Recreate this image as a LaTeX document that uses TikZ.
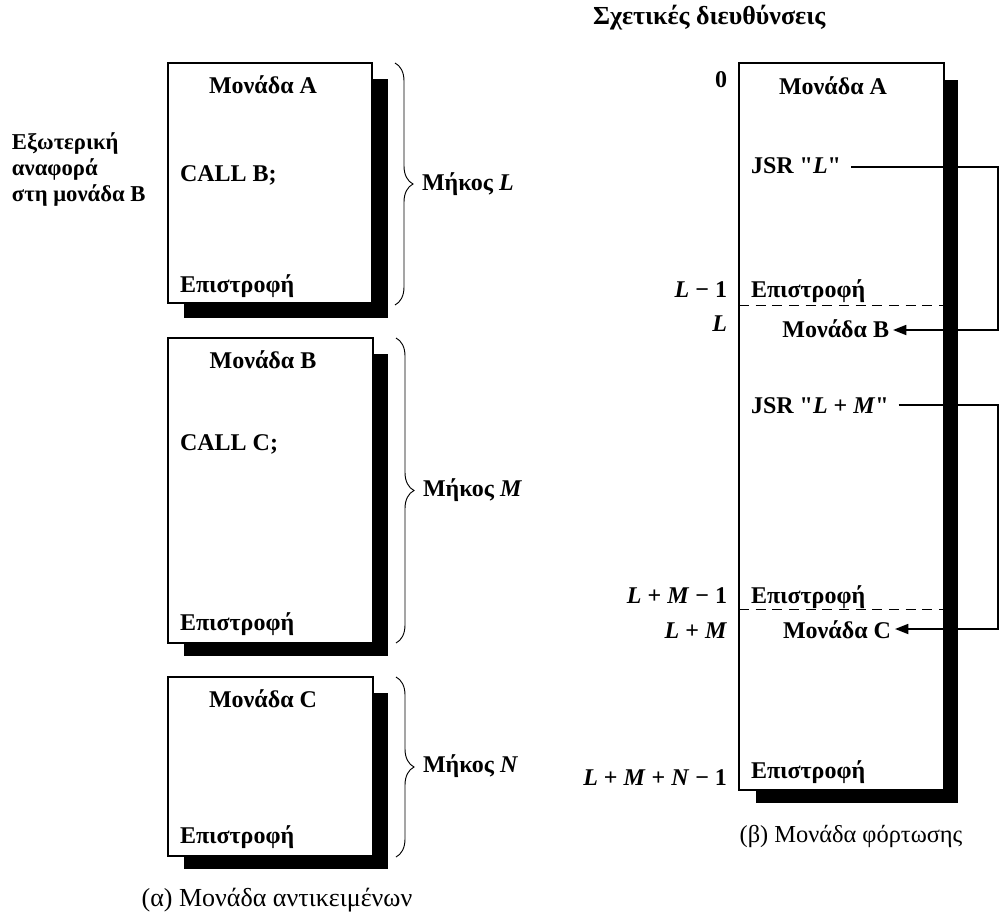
\documentclass[tikz,border=0pt]{standalone}
\usepackage{fontspec}
\setmainfont{Liberation Serif}[Ligatures=TeXOff]
\usetikzlibrary{arrows.meta,decorations.pathreplacing}
\begin{document}
\begin{tikzpicture}[x=0.75pt,y=-0.75pt,
  txt/.style={inner sep=0pt,outer sep=0pt,font=\fontsize{18}{20}\selectfont\bfseries},
  captxt/.style={inner sep=0pt,outer sep=0pt,font=\fontsize{18.3}{20}\selectfont},
  frame/.style={draw,line width=0.8pt,fill=white},
  brc/.style={decorate,decoration={brace,amplitude=13.5pt},line width=0.7pt},
  conn/.style={line width=1.3pt},
  arr/.style={conn,-{Triangle[length=10pt,width=7.5pt]}},
  sep/.style={dash pattern=on 7.5pt off 5pt,line width=0.7pt}]
\useasboundingbox (0,0) rectangle (1002,913);

% ---------- (a) object modules ----------
% module A
\fill (184,79) rectangle (388,318);
\draw[frame] (168,63) rectangle (372,303);
\node[txt,anchor=base] (oA) at (263,94) {Μονάδα A};
\node[txt,anchor=base west] (callB) at (180,181) {CALL B;};
\node[txt,anchor=base west] (retA) at (180,292) {Επιστροφή};
\draw[brc] (395,63) -- (395,305);
\node[txt,anchor=west] (lenL) at (422,184) {Μήκος \textit{L}};
% the base anchor of a multi-line node sits on its last line
\node[txt,anchor=base west,align=left,font=\fontsize{17}{19.5}\selectfont\bfseries]
  (ext) at (12,201) {Εξωτερική\\αναφορά\\στη μονάδα B};

% module B
\fill (184,354) rectangle (388,656);
\draw[frame] (168,338) rectangle (373,643);
\node[txt,anchor=base] (oB) at (263,368) {Μονάδα B};
\node[txt,anchor=base west] (callC) at (180,450) {CALL C;};
\node[txt,anchor=base west] (retB) at (180,630) {Επιστροφή};
\draw[brc] (396,338) -- (396,643);
\node[txt,anchor=west] (lenM) at (423,490) {Μήκος \textit{M}};

% module C
\fill (184,693) rectangle (388,869);
\draw[frame] (168,677) rectangle (373,856);
\node[txt,anchor=base] (oC) at (263,707) {Μονάδα C};
\node[txt,anchor=base west] (retC) at (180,843) {Επιστροφή};
\draw[brc] (396,677) -- (396,857);
\node[txt,anchor=west] (lenN) at (423,766) {Μήκος \textit{N}};

\node[captxt,anchor=base,font=\fontsize{19.5}{21}\selectfont] (capA) at (277,906)
  {(α) Μονάδα αντικειμένων};

% ---------- (b) load module ----------
\node[txt,anchor=base west,font=\fontsize{19.5}{22}\selectfont\bfseries] (rel) at (593,25)
  {Σχετικές διευθύνσεις};

\fill (756,80) rectangle (958,803);
\draw[frame] (739,63) rectangle (944,790);

% relative addresses
\node[txt,anchor=base east] (a0) at (727,88) {0};
\node[txt,anchor=base east] (a1) at (727,297) {\textit{L} − 1};
\node[txt,anchor=base east] (a2) at (727,331) {\textit{L}};
\node[txt,anchor=base east] (a3) at (727,603) {\textit{L} + \textit{M} − 1};
\node[txt,anchor=base east] (a4) at (727,638) {\textit{L} + \textit{M}};
\node[txt,anchor=base east] (a5) at (727,785) {\textit{L} + \textit{M} + \textit{N} − 1};

% contents
\node[txt,anchor=base] (lA) at (833,95) {Μονάδα A};
\node[txt,anchor=base west] (jsr1) at (751,174) {JSR "\textit{L}"};
\node[txt,anchor=base west] (lret1) at (751,297) {Επιστροφή};
\node[txt,anchor=base east] (lB) at (889,337) {Μονάδα B};
\node[txt,anchor=base west] (jsr2) at (751,413) {JSR "\textit{L} + \textit{M}"};
\node[txt,anchor=base west] (lret2) at (751,603) {Επιστροφή};
\node[txt,anchor=base east] (lC) at (891,638) {Μονάδα C};
\node[txt,anchor=base west] (lret3) at (751,778) {Επιστροφή};

% module boundaries
\draw[sep] (739,305) -- (944,305);
\draw[sep] (739,609) -- (944,609);

% jump links
\coordinate (rail) at (998,0);
\draw[arr] ([xshift=7.5pt]jsr1.east |- 0,167) -- (rail |- 0,167) -- (rail |- 0,330)
  -- ([xshift=3pt]lB.east |- 0,330);
\draw[arr] ([xshift=7.5pt]jsr2.east |- 0,405) -- (rail |- 0,405) -- (rail |- 0,629)
  -- ([xshift=3pt]lC.east |- 0,629);

\node[captxt,anchor=base] (capB) at (851,842) {(β) Μονάδα φόρτωσης};
\end{tikzpicture}
\end{document}
